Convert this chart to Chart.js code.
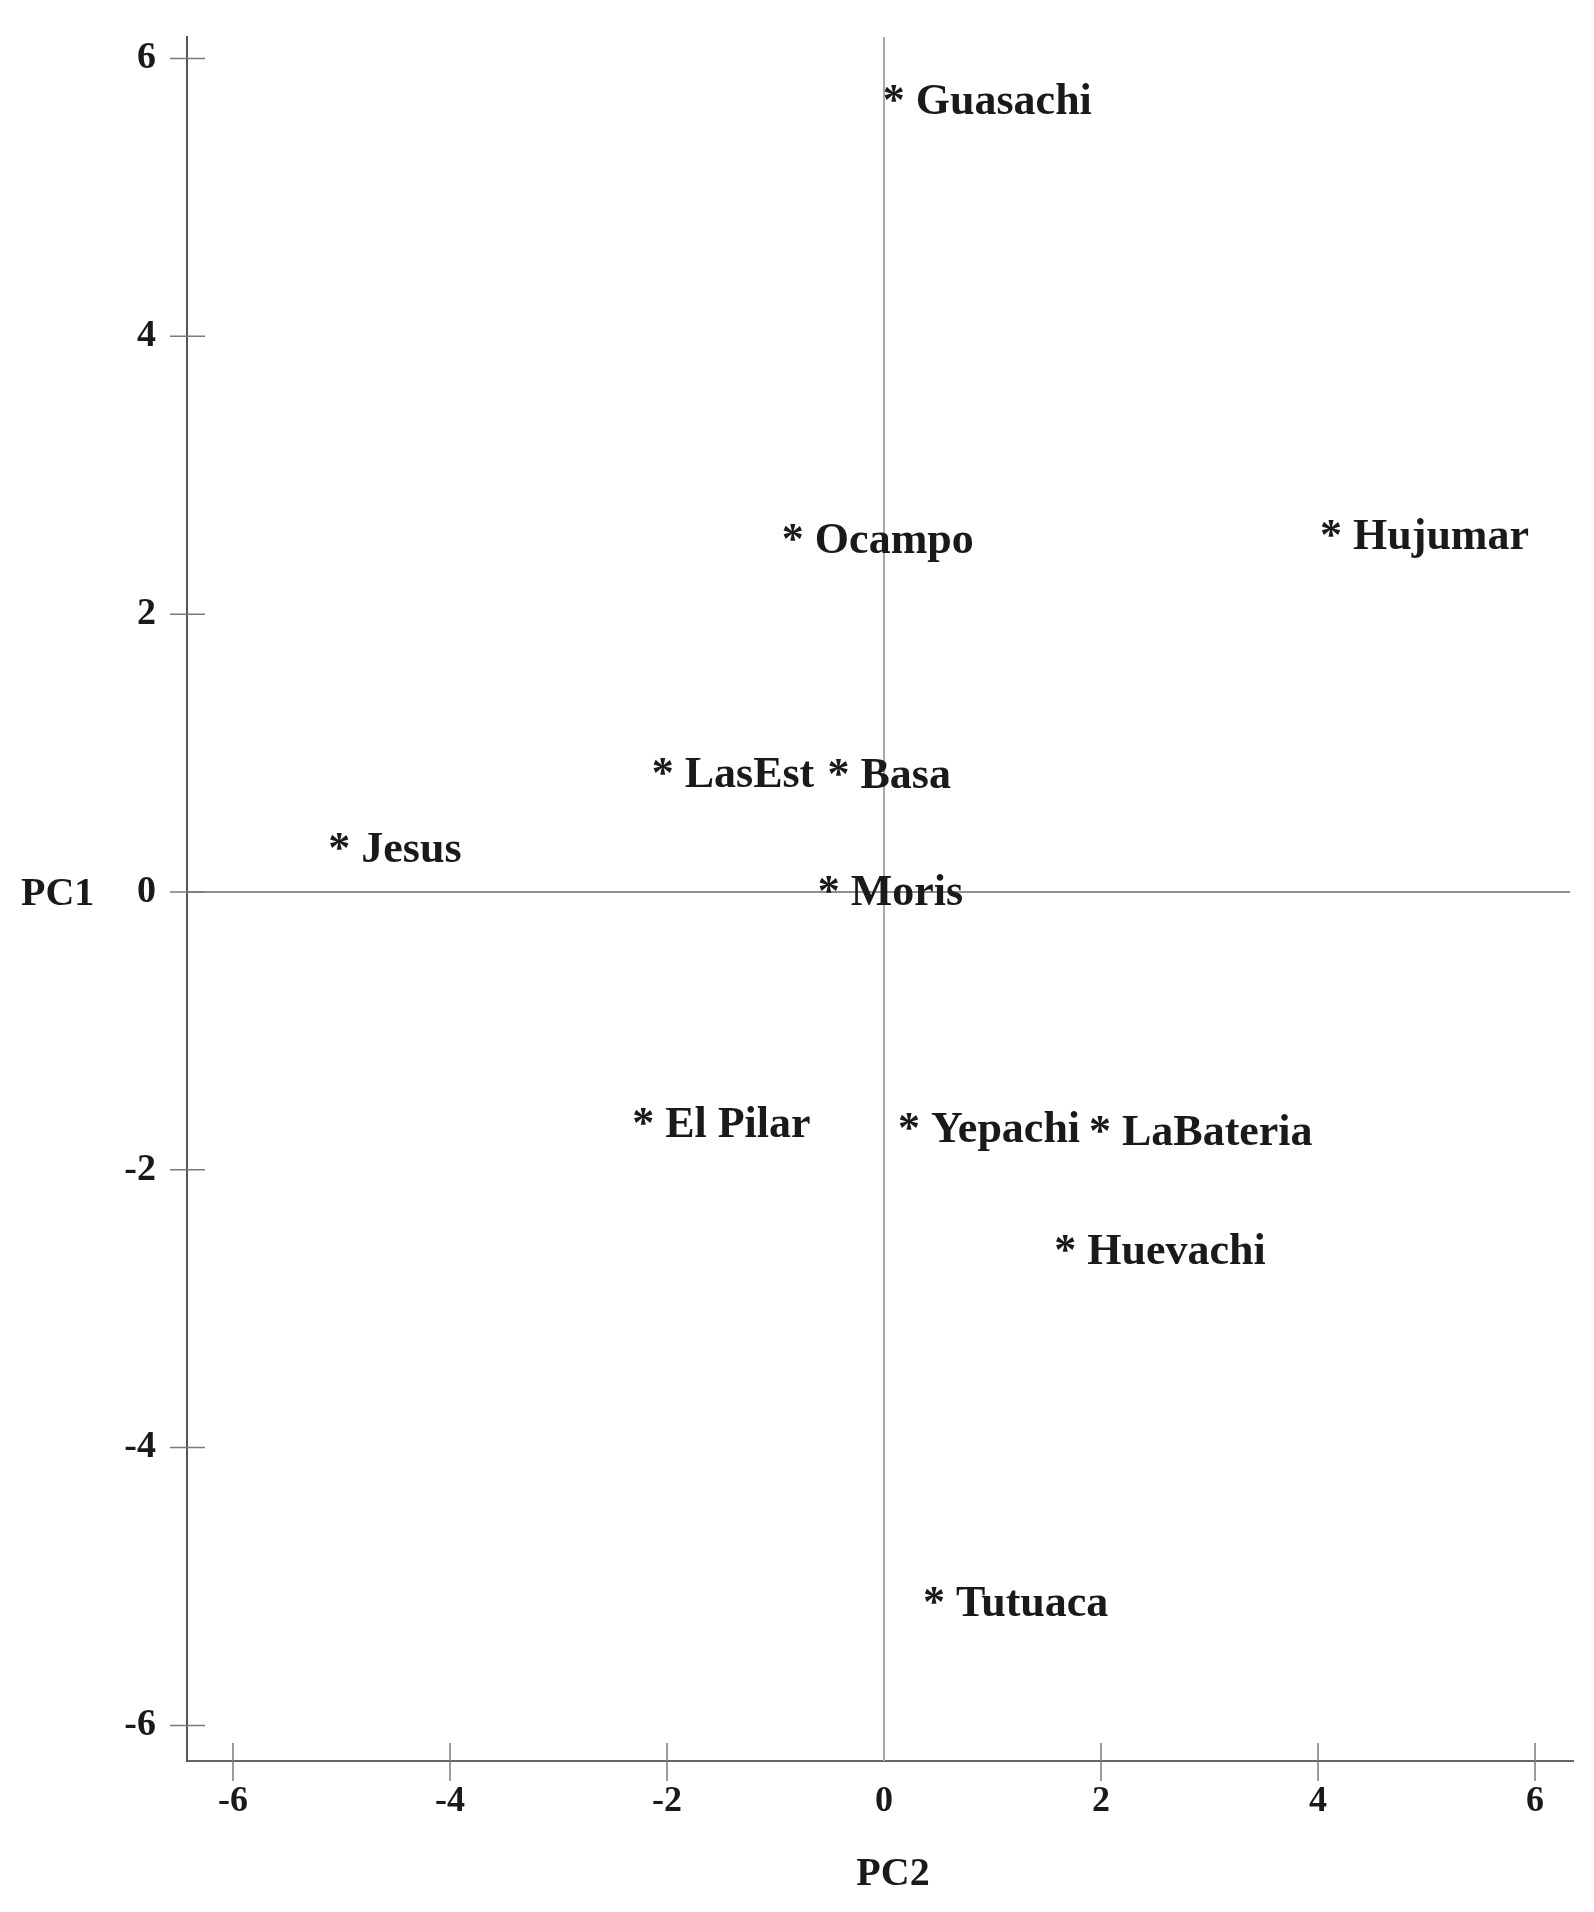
<!DOCTYPE html>
<html>
<head>
<meta charset="utf-8">
<script src="https://cdn.jsdelivr.net/npm/chart.js@4"></script>
<style>
  html, body { margin: 0; padding: 0; background: #ffffff; }
  #wrap { width: 1594px; height: 1912px; }
</style>
</head>
<body>
<div id="wrap"><canvas id="c" width="1594" height="1912"></canvas></div>
<script>
// ---- data ----
const siteNames = ['Guasachi', 'Ocampo', 'Hujumar', 'LasEst', 'Basa', 'Jesus', 'Moris',
                   'El Pilar', 'Yepachi', 'LaBateria', 'Huevachi', 'Tutuaca'];
const pc2Values = [0.09, -0.84, 4.12, -2.04, -0.42, -5.02, -0.51, -2.22, 0.23, 1.99, 1.67, 0.46];
const pc1Values = [5.75, 2.59, 2.62, 0.91, 0.90, 0.37, 0.06, -1.61, -1.65, -1.67, -2.53, -5.06];
const xTickValues = [-6, -4, -2, 0, 2, 4, 6];
const yTickValues = [6, 4, 2, 0, -2, -4, -6];
const xAxisTitle = 'PC2';
const yAxisTitle = 'PC1';

const points = siteNames.map((n, i) => ({ x: pc2Values[i], y: pc1Values[i], label: n }));

const TEXT = '#1a1a1a';
const SERIF = '"Liberation Serif", "Times New Roman", serif';

const decorPlugin = {
  id: 'decor',
  beforeDatasetsDraw(chart) {
    const { ctx, chartArea: a, scales: { x, y } } = chart;
    ctx.save();
    // zero lines
    const y0 = y.getPixelForValue(0);
    ctx.strokeStyle = '#6a6a6a';
    ctx.lineWidth = 1.5;
    ctx.beginPath(); ctx.moveTo(a.left, y0); ctx.lineTo(a.right - 3, y0); ctx.stroke();
    const x0 = x.getPixelForValue(0);
    ctx.strokeStyle = '#a8a8a8';
    ctx.lineWidth = 2;
    ctx.beginPath(); ctx.moveTo(x0, a.top); ctx.lineTo(x0, a.bottom); ctx.stroke();
    // cross tick marks
    ctx.strokeStyle = '#7a7a7a';
    ctx.lineWidth = 1.5;
    yTickValues.forEach(v => {
      const p = y.getPixelForValue(v);
      ctx.beginPath(); ctx.moveTo(a.left - 17, p); ctx.lineTo(a.left + 18, p); ctx.stroke();
    });
    xTickValues.forEach(v => {
      if (v === 0) return;
      const p = x.getPixelForValue(v);
      ctx.beginPath(); ctx.moveTo(p, a.bottom - 18); ctx.lineTo(p, a.bottom + 20); ctx.stroke();
    });
    ctx.restore();
  },
  afterDatasetsDraw(chart) {
    const { ctx, scales: { x, y } } = chart;
    const meta = chart.getDatasetMeta(0);
    ctx.save();
    ctx.fillStyle = TEXT;
    ctx.font = 'bold 44px ' + SERIF;
    meta.data.forEach((el, i) => {
      const px = el.x, py = el.y;
      ctx.textBaseline = 'alphabetic';
      ctx.textAlign = 'center';
      ctx.fillText('*', px, py + 21);
      ctx.textAlign = 'left';
      ctx.fillText(points[i].label, px + 22, py + 21);
    });
    // axis titles
    ctx.font = 'bold 40px ' + SERIF;
    ctx.textBaseline = 'middle';
    ctx.textAlign = 'left';
    ctx.fillText(yAxisTitle, 21, y.getPixelForValue(0) + 3);
    ctx.textAlign = 'center';
    ctx.fillText(xAxisTitle, x.getPixelForValue(0) + 9, 1875);
    ctx.restore();
  }
};

new Chart(document.getElementById('c'), {
  type: 'scatter',
  data: {
    datasets: [{
      data: points,
      pointRadius: 0,
      pointHoverRadius: 0,
      showLine: false
    }]
  },
  options: {
    responsive: false,
    animation: false,
    events: [],
    layout: { padding: { top: 37, right: 21, left: 0, bottom: 0 } },
    plugins: { legend: { display: false }, tooltip: { enabled: false } },
    scales: {
      x: {
        type: 'linear',
        position: 'bottom',
        min: -6.424,
        max: 6.35,
        afterBuildTicks: s => { s.ticks = xTickValues.map(v => ({ value: v })); },
        afterFit: s => { s.height = 151; s.paddingLeft = 0; s.paddingRight = 0; },
        grid: { display: false, drawTicks: false },
        border: { display: true, color: '#666666', width: 2 },
        ticks: {
          padding: 19,
          color: TEXT,
          font: { family: SERIF, size: 36, weight: 'bold' },
          callback: v => String(v)
        }
      },
      y: {
        type: 'linear',
        position: 'left',
        min: -6.256,
        max: 6.155,
        afterBuildTicks: s => { s.ticks = yTickValues.map(v => ({ value: v })); },
        afterFit: s => { s.width = 187; s.paddingTop = 0; s.paddingBottom = 0; },
        grid: { display: false, drawTicks: false },
        border: { display: true, color: '#555555', width: 2 },
        ticks: {
          padding: 31,
          color: TEXT,
          font: { family: SERIF, size: 38, weight: 'bold' },
          callback: v => String(v)
        }
      }
    }
  },
  plugins: [decorPlugin]
});
</script>
</body>
</html>
